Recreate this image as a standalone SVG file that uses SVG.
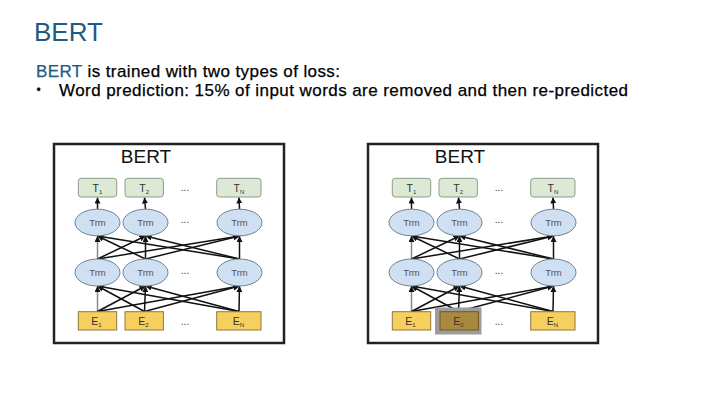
<svg xmlns="http://www.w3.org/2000/svg" width="720" height="405" viewBox="0 0 720 405">
<defs>
<marker id="ah" markerUnits="userSpaceOnUse" markerWidth="7" markerHeight="7" refX="6" refY="3" orient="auto"><path d="M0,0 L6,3 L0,6 z" fill="#111"/></marker>
<style>
text{font-family:"Liberation Sans",Arial,sans-serif}
.h{font-size:26px;fill:#1d5a85}
.b{font-size:17px;fill:#000;stroke:#000;stroke-width:0.25}
.frame{fill:#fff;stroke:#222;stroke-width:2.5}
.title{font-size:19px;fill:#111;text-anchor:middle}
.tb{fill:#dce9d5;stroke:#8e9c8b;stroke-width:1}
.eb{fill:#f6cf5f;stroke:#8c7a3a;stroke-width:1}
.em{fill:#a8893d;stroke:#6d5a25;stroke-width:1}
.hl{fill:#9c9c9c}
.el{fill:#cfe0f3;stroke:#6d8298;stroke-width:1}
.lbl{font-size:10.5px;fill:#333;text-anchor:middle}
.tr{font-size:9.5px;fill:#555;text-anchor:middle}
.sub{font-size:6px}
.dots{font-size:10px;fill:#333;text-anchor:middle}
.c line{stroke:#111;stroke-width:1.5;marker-end:url(#ah)}
.c line.g{stroke:#888}
</style>
</defs>
<rect width="720" height="405" fill="#fff"/>
<g id="heading">
<text class="h" x="34" y="40.5">BERT</text>
<text class="b" x="36" y="76.5" textLength="304"><tspan fill="#1d5a85" stroke="#1d5a85">BERT</tspan> is trained with two types of loss:</text>
<text class="b" x="36.5" y="94" style="font-size:12px">•</text>
<text class="b" x="59" y="96" textLength="569">Word prediction: 15% of input words are removed and then re-predicted</text>
</g>

<g id="left-diagram">
<rect id="l-frame" class="frame" x="54" y="144" width="230" height="199"/>
<text id="l-title" class="title" x="146" y="162.5">BERT</text>
</g>
<g id="right-diagram" transform="translate(314,0)">
<rect id="r-frame" class="frame" x="54" y="144" width="230" height="199"/>
<text id="r-title" class="title" x="146" y="162.5">BERT</text>
</g>

<g id="connectors">
<g class="c" id="l-connectors">
<line x1="97.5" y1="209" x2="97.5" y2="197.5"/>
<line x1="145.5" y1="209" x2="144.5" y2="197.5"/>
<line x1="239.5" y1="209" x2="239" y2="197.5"/>
<line class="g" x1="97.5" y1="259" x2="97.5" y2="236"/>
<line x1="97.5" y1="259" x2="145.5" y2="236"/>
<line x1="97.5" y1="259" x2="239.5" y2="236"/>
<line x1="145.5" y1="259" x2="97.5" y2="236"/>
<line x1="145.5" y1="259" x2="145.5" y2="236"/>
<line x1="145.5" y1="259" x2="239.5" y2="236"/>
<line x1="239.5" y1="259" x2="97.5" y2="236"/>
<line x1="239.5" y1="259" x2="145.5" y2="236"/>
<line x1="239.5" y1="259" x2="239.5" y2="236"/>
<line class="g" x1="97.5" y1="311.5" x2="97.5" y2="286"/>
<line x1="97.5" y1="311.5" x2="145.5" y2="286"/>
<line x1="97.5" y1="311.5" x2="239.5" y2="286"/>
<line x1="144.5" y1="311.5" x2="97.5" y2="286"/>
<line x1="144.5" y1="311.5" x2="145.5" y2="286"/>
<line x1="144.5" y1="311.5" x2="239.5" y2="286"/>
<line x1="239" y1="311.5" x2="97.5" y2="286"/>
<line x1="239" y1="311.5" x2="145.5" y2="286"/>
<line x1="239" y1="311.5" x2="239.5" y2="286"/>
</g>
<g class="c" id="r-connectors" transform="translate(314,0)">
<line x1="97.5" y1="209" x2="97.5" y2="197.5"/>
<line x1="145.5" y1="209" x2="144.5" y2="197.5"/>
<line x1="239.5" y1="209" x2="239" y2="197.5"/>
<line class="g" x1="97.5" y1="259" x2="97.5" y2="236"/>
<line x1="97.5" y1="259" x2="145.5" y2="236"/>
<line x1="97.5" y1="259" x2="239.5" y2="236"/>
<line x1="145.5" y1="259" x2="97.5" y2="236"/>
<line x1="145.5" y1="259" x2="145.5" y2="236"/>
<line x1="145.5" y1="259" x2="239.5" y2="236"/>
<line x1="239.5" y1="259" x2="97.5" y2="236"/>
<line x1="239.5" y1="259" x2="145.5" y2="236"/>
<line x1="239.5" y1="259" x2="239.5" y2="236"/>
<line class="g" x1="97.5" y1="311.5" x2="97.5" y2="286"/>
<line x1="97.5" y1="311.5" x2="145.5" y2="286"/>
<line x1="97.5" y1="311.5" x2="239.5" y2="286"/>
<line x1="144.5" y1="311.5" x2="97.5" y2="286"/>
<line x1="144.5" y1="311.5" x2="145.5" y2="286"/>
<line x1="144.5" y1="311.5" x2="239.5" y2="286"/>
<line x1="239" y1="311.5" x2="97.5" y2="286"/>
<line x1="239" y1="311.5" x2="145.5" y2="286"/>
<line x1="239" y1="311.5" x2="239.5" y2="286"/>
</g>
</g>

<g id="left-nodes">
<g id="l-T1"><rect class="tb" x="78.3" y="178.3" width="38.4" height="18.7" rx="3"/><text class="lbl" x="97.5" y="191.5">T<tspan class="sub" dy="2">1</tspan></text></g>
<g id="l-T2"><rect class="tb" x="125" y="178.3" width="38.4" height="18.7" rx="3"/><text class="lbl" x="144.2" y="191.5">T<tspan class="sub" dy="2">2</tspan></text></g>
<g id="l-TN"><rect class="tb" x="216.7" y="178.3" width="44.3" height="18.7" rx="3"/><text class="lbl" x="239" y="191.5">T<tspan class="sub" dy="2">N</tspan></text></g>
<text class="dots" x="185" y="191">...</text>
<g id="l-Trm-top1"><ellipse class="el" cx="97.5" cy="222.5" rx="22.5" ry="13.3"/><text class="tr" x="97.5" y="226">Trm</text></g>
<g id="l-Trm-top2"><ellipse class="el" cx="145.5" cy="222.5" rx="22.5" ry="13.3"/><text class="tr" x="145.5" y="226">Trm</text></g>
<g id="l-Trm-topN"><ellipse class="el" cx="239.5" cy="222.5" rx="22.5" ry="13.3"/><text class="tr" x="239.5" y="226">Trm</text></g>
<text class="dots" x="185" y="223">...</text>
<g id="l-Trm-bot1"><ellipse class="el" cx="97.5" cy="272.5" rx="22.5" ry="13.5"/><text class="tr" x="97.5" y="276">Trm</text></g>
<g id="l-Trm-bot2"><ellipse class="el" cx="145.5" cy="272.5" rx="22.5" ry="13.5"/><text class="tr" x="145.5" y="276">Trm</text></g>
<g id="l-Trm-botN"><ellipse class="el" cx="239.5" cy="272.5" rx="22.5" ry="13.5"/><text class="tr" x="239.5" y="276">Trm</text></g>
<text class="dots" x="185" y="274">...</text>
<g id="l-E1"><rect class="eb" x="78.3" y="311.7" width="38.4" height="18.3"/><text class="lbl" x="96.5" y="325">E<tspan class="sub" dy="2">1</tspan></text></g>
<g id="l-E2"><rect class="eb" x="125" y="311.7" width="38.4" height="18.3"/><text class="lbl" x="143.5" y="325">E<tspan class="sub" dy="2">2</tspan></text></g>
<g id="l-EN"><rect class="eb" x="216.7" y="311.7" width="44.3" height="18.3"/><text class="lbl" x="238.5" y="325">E<tspan class="sub" dy="2">N</tspan></text></g>
<text class="dots" x="185" y="325">...</text>
</g>

<g id="right-nodes" transform="translate(314,0)">
<g id="r-T1"><rect class="tb" x="78.3" y="178.3" width="38.4" height="18.7" rx="3"/><text class="lbl" x="97.5" y="191.5">T<tspan class="sub" dy="2">1</tspan></text></g>
<g id="r-T2"><rect class="tb" x="125" y="178.3" width="38.4" height="18.7" rx="3"/><text class="lbl" x="144.2" y="191.5">T<tspan class="sub" dy="2">2</tspan></text></g>
<g id="r-TN"><rect class="tb" x="216.7" y="178.3" width="44.3" height="18.7" rx="3"/><text class="lbl" x="239" y="191.5">T<tspan class="sub" dy="2">N</tspan></text></g>
<text class="dots" x="185" y="191">...</text>
<g id="r-Trm-top1"><ellipse class="el" cx="97.5" cy="222.5" rx="22.5" ry="13.3"/><text class="tr" x="97.5" y="226">Trm</text></g>
<g id="r-Trm-top2"><ellipse class="el" cx="145.5" cy="222.5" rx="22.5" ry="13.3"/><text class="tr" x="145.5" y="226">Trm</text></g>
<g id="r-Trm-topN"><ellipse class="el" cx="239.5" cy="222.5" rx="22.5" ry="13.3"/><text class="tr" x="239.5" y="226">Trm</text></g>
<text class="dots" x="185" y="223">...</text>
<g id="r-Trm-bot1"><ellipse class="el" cx="97.5" cy="272.5" rx="22.5" ry="13.5"/><text class="tr" x="97.5" y="276">Trm</text></g>
<g id="r-Trm-bot2"><ellipse class="el" cx="145.5" cy="272.5" rx="22.5" ry="13.5"/><text class="tr" x="145.5" y="276">Trm</text></g>
<g id="r-Trm-botN"><ellipse class="el" cx="239.5" cy="272.5" rx="22.5" ry="13.5"/><text class="tr" x="239.5" y="276">Trm</text></g>
<text class="dots" x="185" y="274">...</text>
<g id="r-E1"><rect class="eb" x="78.3" y="311.7" width="38.4" height="18.3"/><text class="lbl" x="96.5" y="325">E<tspan class="sub" dy="2">1</tspan></text></g>
<g id="r-E2"><rect class="hl" x="121" y="307.5" width="46.5" height="27"/><rect class="em" x="126" y="311.7" width="38.4" height="18.3"/><text class="lbl" x="144.5" y="325">E<tspan class="sub" dy="2">2</tspan></text></g>
<g id="r-EN"><rect class="eb" x="216.7" y="311.7" width="44.3" height="18.3"/><text class="lbl" x="238.5" y="325">E<tspan class="sub" dy="2">N</tspan></text></g>
<text class="dots" x="185" y="325">...</text>
</g>
</svg>
